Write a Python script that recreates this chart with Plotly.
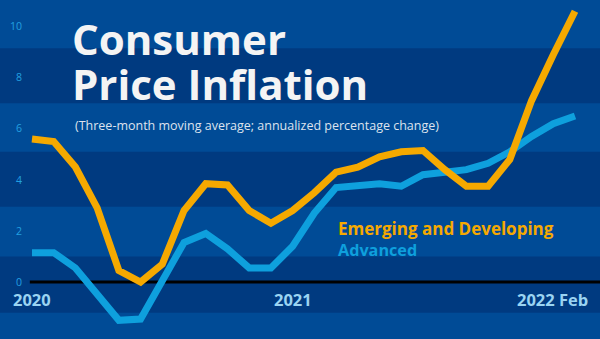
import plotly.graph_objects as go

# ---- data ----
months = ["2020-01", "2020-02", "2020-03", "2020-04", "2020-05", "2020-06",
          "2020-07", "2020-08", "2020-09", "2020-10", "2020-11", "2020-12",
          "2021-01", "2021-02", "2021-03", "2021-04", "2021-05", "2021-06",
          "2021-07", "2021-08", "2021-09", "2021-10", "2021-11", "2021-12",
          "2022-01", "2022-02"]
emerging = [5.6, 5.5, 4.5, 2.9, 0.45, 0.0, 0.7, 2.8, 3.85, 3.8, 2.8, 2.3, 2.8,
            3.5, 4.3, 4.5, 4.9, 5.1, 5.15, 4.4, 3.75, 3.75, 4.8, 7.1, 8.9, 10.6]
advanced = [1.15, 1.15, 0.55, -0.45, -1.5, -1.45, 0.1, 1.55, 1.9, 1.3, 0.55, 0.55,
            1.4, 2.7, 3.7, 3.75, 3.85, 3.75, 4.2, 4.3, 4.4, 4.65, 5.1, 5.7, 6.2, 6.5]
y_ticks = [-2, 0, 2, 4, 6, 8, 10]
x_labels = ["2020", "2021", "2022 Feb"]
dark_bands = [(-1.2, 1.0), (2.95, 5.1), (7.0, 9.15)]

# ---- style ----
W, H = 600, 339
BG_LIGHT = "#004b96"
BG_DARK = "#003a80"
ORANGE = "#f5a900"
BLUE = "#0ea0dd"
FONT = "Open Sans"

fig = go.Figure()
fig.add_trace(go.Scatter(x=months, y=advanced, mode="lines",
                         line=dict(color=BLUE, width=7), hoverinfo="skip"))
fig.add_trace(go.Scatter(x=months, y=emerging, mode="lines",
                         line=dict(color=ORANGE, width=7), hoverinfo="skip"))

for lo, hi in dark_bands:
    fig.add_shape(type="rect", xref="paper", yref="y", x0=0, x1=1, y0=lo, y1=hi,
                  fillcolor=BG_DARK, line_width=0, layer="below")
# zero line
fig.add_shape(type="line", xref="x", yref="y", x0=-0.1, x1=len(months) + 2,
              y0=0, y1=0, line=dict(color="#000000", width=3), layer="below")

def px(x):
    return x / W

def py(y):
    return 1 - y / H

ann = []
ann.append(dict(text="<b>Consumer</b>", x=px(71), y=py(38), xanchor="left", yanchor="middle",
                font=dict(family=FONT, size=42, color="#f4f4f4")))
ann.append(dict(text="<b>Price Inflation</b>", x=px(71), y=py(84), xanchor="left", yanchor="middle",
                font=dict(family=FONT, size=42, color="#f4f4f4")))
ann.append(dict(text="(Three-month moving average; annualized percentage change)",
                x=px(74), y=py(125), xanchor="left", yanchor="middle",
                font=dict(family=FONT, size=12.5, color="#dde3ee")))
ann.append(dict(text="<b>Emerging and Developing</b>", x=px(337), y=py(228), xanchor="left",
                yanchor="middle", font=dict(family=FONT, size=17, color=ORANGE)))
ann.append(dict(text="<b>Advanced</b>", x=px(337), y=py(250), xanchor="left",
                yanchor="middle", font=dict(family=FONT, size=16.2, color=BLUE)))
# x labels
XL = dict(family=FONT, size=16.5, color="#9ad4f2")
ann.append(dict(text="<b>%s</b>" % x_labels[0], xref="x", x=months[0], y=py(299),
                xanchor="center", yanchor="middle", font=XL))
ann.append(dict(text="<b>%s</b>" % x_labels[1], xref="x", x=months[12], y=py(299),
                xanchor="center", yanchor="middle", font=XL))
ann.append(dict(text="<b>%s</b>" % x_labels[2], x=px(589), y=py(299),
                xanchor="right", yanchor="middle", font=XL))
for a in ann:
    a.setdefault("xref", "paper")
    a["yref"] = "paper"
    a["showarrow"] = False
    a["borderpad"] = 0

n = len(months)
fig.update_layout(
    width=W, height=H,
    margin=dict(l=0, r=0, t=0, b=0),
    paper_bgcolor=BG_LIGHT, plot_bgcolor=BG_LIGHT,
    showlegend=False,
    annotations=ann,
    xaxis=dict(type="category", range=[-1.473, n - 1 + 25 / 21.72],
               showgrid=False, zeroline=False, showticklabels=False, ticks=""),
    yaxis=dict(range=[-2.23, 11.04], tickvals=y_ticks, ticktext=[str(v) for v in y_ticks],
               showgrid=False, zeroline=False, showline=False, ticks="",
               anchor="free", position=22 / W, ticklabelstandoff=0,
               tickfont=dict(family=FONT, size=10.5, color="#22a0e0")),
)

fig.write_html("out.html")
